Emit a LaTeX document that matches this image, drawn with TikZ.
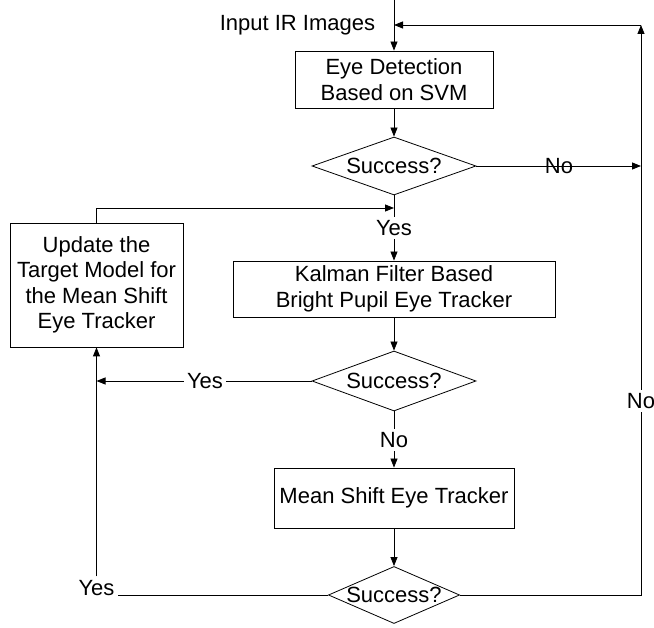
\documentclass[tikz,border=0pt]{standalone}
\usepackage{fontspec}
\setmainfont{Liberation Sans}
\usetikzlibrary{shapes.geometric, arrows.meta}

\begin{document}
\begin{tikzpicture}[x=1pt, y=-1pt, line width=0.8pt,
  font=\fontsize{22}{25.5}\selectfont,
  box/.style={draw, align=center, inner sep=0pt},
  decision/.style={draw, diamond, aspect=2.9, inner sep=0pt, minimum width=164pt, minimum height=58pt},
  lbl/.style={inner sep=3pt},
  arr/.style={-{Triangle[length=9pt, width=7pt]}}]

  \useasboundingbox (0,0) rectangle (654,628);

  \coordinate (top) at (394,0);
  \coordinate (in) at (394,25);
  \coordinate (tr) at (641,25);
  \coordinate (r1) at (641,166);
  \coordinate (br) at (641,595);
  \coordinate (fb) at (96.5,208);
  \coordinate (fbin) at (394,208);
  \coordinate (l2) at (96.5,381);

  \node (input) at (297.5,25) {Input IR Images};
  \node[box, minimum width=198pt, minimum height=57pt] (det) at (394,79.5) {Eye Detection\\Based on SVM};
  \node[decision] (s1) at (394,166) {Success?};
  \node (no1) at (559,166) {No};
  \node[lbl] (yes1) at (394,228) {Yes};
  \node[box, minimum width=322pt, minimum height=56pt] (kal) at (394,289) {Kalman Filter Based\\Bright Pupil Eye Tracker};
  \node[box, minimum width=173pt, minimum height=124pt] (upd) at (96.5,285) {Update the\\Target Model for\\the Mean Shift\\Eye Tracker};
  \node[decision, minimum height=60pt] (s2) at (394,381) {Success?};
  \node[lbl] (yes2) at (205,381) {Yes};
  \node[lbl] (no2) at (394,440) {No};
  \node[box, minimum width=240pt, minimum height=60pt] (ms) at (394,498) {Mean Shift Eye Tracker};
  \node[decision, aspect=2.3, minimum width=0pt, minimum height=0pt] (s3) at (394,595) {Success?};
  \node[lbl, anchor=base] (yes3) at (96.5,595) {Yes};
  \node[lbl] (no3) at (641,401) {No};

  \draw[arr] (top) -- (det);
  \draw[arr] (det) -- (s1);
  \draw[arr] (s1) -- (r1);
  \draw (s1) -- (yes1);
  \draw[arr] (yes1) -- (kal);
  \draw (upd) -- (fb);
  \draw[arr] (fb) -- (fbin);
  \draw[arr] (kal) -- (s2);
  \draw (s2) -- (yes2);
  \draw[arr] (yes2) -- (l2);
  \draw (s2) -- (no2);
  \draw[arr] (no2) -- (ms);
  \draw[arr] (ms) -- (s3);
  \draw (s3) -- (yes3.base east);
  \draw[arr] (yes3) -- (upd);
  \draw (s3) -- (br) -- (no3);
  \draw[arr] (no3) -- (tr);
  \draw[arr] (tr) -- (in);

\end{tikzpicture}
\end{document}
